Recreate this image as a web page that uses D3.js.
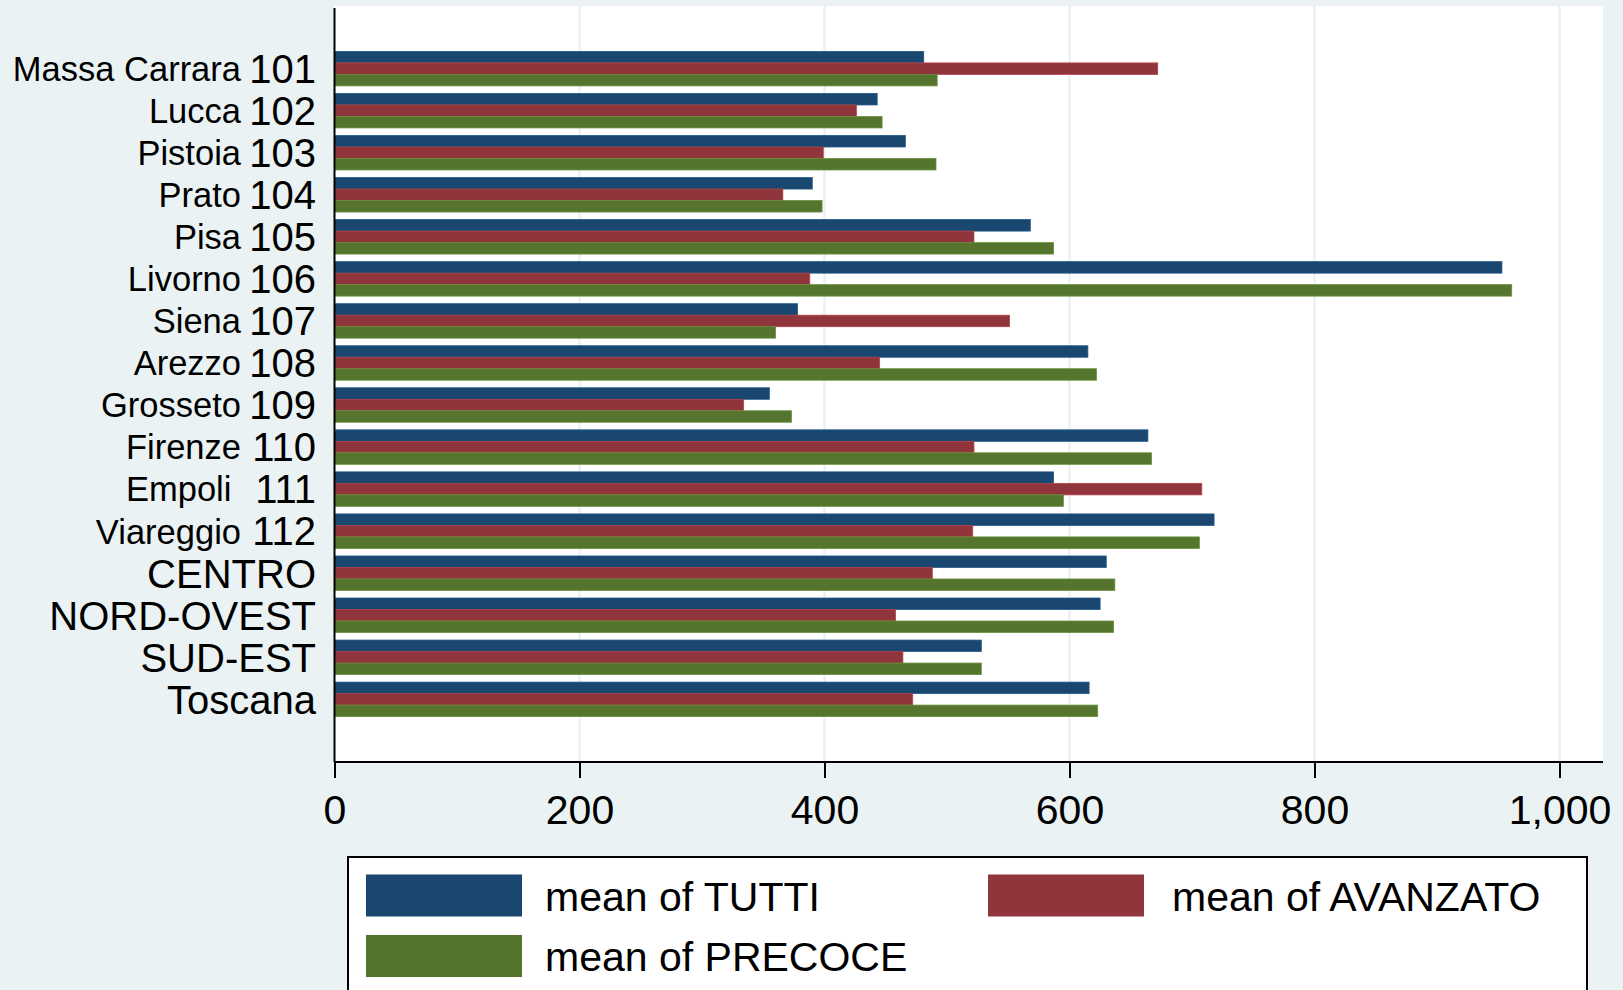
<!DOCTYPE html>
<html>
<head>
<meta charset="utf-8">
<script src="https://cdn.jsdelivr.net/npm/d3@7"></script>
<style>
  html, body { margin: 0; padding: 0; background: #EAF2F3; }
  svg { display: block; }
  text { font-family: "Liberation Sans", Arial, sans-serif; fill: #000; white-space: pre; }
</style>
</head>
<body>
<svg id="chart" width="1623" height="990"></svg>
<script>
// ---- data ----
const names = ["Massa Carrara", "Lucca", "Pistoia", "Prato", "Pisa", "Livorno", "Siena", "Arezzo",
               "Grosseto", "Firenze", "Empoli ", "Viareggio", "", "", "", ""];
const codes = ["101", "102", "103", "104", "105", "106", "107", "108",
               "109", "110", "111", "112", "CENTRO", "NORD-OVEST", "SUD-EST", "Toscana"];
const tutti    = [481, 443, 466, 390, 568, 953, 378, 615, 355, 664, 587, 718, 630, 625, 528, 616];
const avanzato = [672, 426, 399, 366, 522, 388, 551, 445, 334, 522, 708, 521, 488, 458, 464, 472];
const precoce  = [492, 447, 491, 398, 587, 961, 360, 622, 373, 667, 595, 706, 637, 636, 528, 623];
const seriesNames = ["mean of TUTTI", "mean of AVANZATO", "mean of PRECOCE"];
const seriesColors = ["#1A476F", "#90353B", "#55752F"];
const xTicks = [0, 200, 400, 600, 800, 1000];

// ---- layout ----
const plot = { left: 334.5, right: 1603, top: 6, bottom: 762 };
const svg = d3.select("#chart");

const x = d3.scaleLinear().domain([0, 1000]).range([plot.left, 1559.5]);
const y = d3.scaleBand().domain(codes).range([plot.top, plot.bottom]).paddingInner(0.18).paddingOuter(1.08);
const ySub = d3.scaleBand().domain(d3.range(3)).range([0, y.bandwidth()]);

// plot region
svg.append("rect").attr("x", plot.left).attr("y", plot.top)
  .attr("width", plot.right - plot.left).attr("height", plot.bottom - plot.top)
  .attr("fill", "#FFFFFF");

// gridlines
svg.append("g").selectAll("line").data(xTicks.filter(d => d > 0)).join("line")
  .attr("x1", d => x(d)).attr("x2", d => x(d))
  .attr("y1", plot.top).attr("y2", plot.bottom)
  .attr("stroke", "#EAF2F3").attr("stroke-width", 2.5);

// bars
const rows = codes.map((c, i) => ({ code: c, vals: [tutti[i], avanzato[i], precoce[i]] }));
const groups = svg.append("g").selectAll("g").data(rows).join("g")
  .attr("transform", d => `translate(0,${y(d.code)})`);
groups.selectAll("rect").data(d => d.vals.map((v, k) => ({ v, k }))).join("rect")
  .attr("x", x(0))
  .attr("y", d => ySub(d.k))
  .attr("width", d => x(d.v) - x(0))
  .attr("height", ySub.bandwidth())
  .attr("fill", d => seriesColors[d.k])
  .attr("stroke", d => d3.color(seriesColors[d.k]).brighter(0.6))
  .attr("stroke-width", 0.8);

// y labels
const yl = svg.append("g");
codes.forEach((c, i) => {
  const cy = y(c) + y.bandwidth() / 2;
  yl.append("text").attr("x", 316).attr("y", cy + 0.358 * 40)
    .attr("text-anchor", "end").attr("font-size", 40).text(c);
  if (names[i]) {
    yl.append("text").attr("x", 241).attr("y", cy + 0.358 * 34.5)
      .attr("text-anchor", "end").attr("font-size", 34.5).text(names[i]);
  }
});

// axes
const xAxis = d3.axisBottom(x).tickValues(xTicks).tickSize(16).tickPadding(17)
  .tickFormat(d3.format(","));
const gx = svg.append("g").attr("transform", `translate(0,${plot.bottom})`).call(xAxis);
gx.select(".domain").remove();
gx.selectAll(".tick line").attr("stroke", "#000").attr("stroke-width", 2);
gx.selectAll(".tick text").attr("font-size", 41).attr("font-family", "Liberation Sans, Arial, sans-serif").attr("fill", "#000");
svg.append("line").attr("x1", plot.left).attr("x2", plot.right)
  .attr("y1", plot.bottom).attr("y2", plot.bottom).attr("stroke", "#000").attr("stroke-width", 2);
svg.append("line").attr("x1", plot.left).attr("x2", plot.left)
  .attr("y1", 8).attr("y2", plot.bottom).attr("stroke", "#000").attr("stroke-width", 2);

// legend
const lg = svg.append("g");
lg.append("rect").attr("x", 348).attr("y", 857).attr("width", 1239).attr("height", 150)
  .attr("fill", "#FFFFFF").attr("stroke", "#000").attr("stroke-width", 2);
const legendPos = [
  { kx: 366, ky: 874.5, tx: 545, ty: 911 },
  { kx: 988, ky: 874.5, tx: 1172, ty: 911 },
  { kx: 366, ky: 935, tx: 545, ty: 971 }
];
seriesNames.forEach((s, k) => {
  const p = legendPos[k];
  lg.append("rect").attr("x", p.kx).attr("y", p.ky).attr("width", 156).attr("height", 42)
    .attr("fill", seriesColors[k]);
  lg.append("text").attr("x", p.tx).attr("y", p.ty).attr("font-size", 41).text(s);
});
</script>
</body>
</html>
